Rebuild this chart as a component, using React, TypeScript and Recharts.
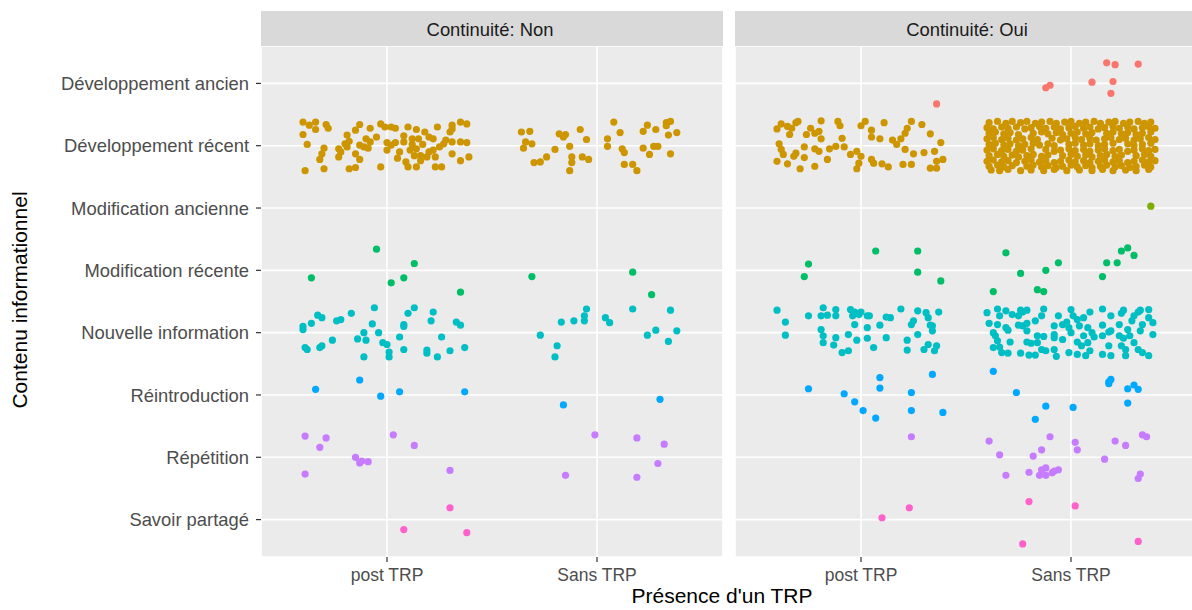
import { ScatterChart, Scatter, XAxis, YAxis, CartesianGrid } from 'recharts';

// y levels, bottom to top (position 1..8)
const CATEGORIES = [
  'Savoir partagé',
  'Répétition',
  'Réintroduction',
  'Nouvelle information',
  'Modification récente',
  'Modification ancienne',
  'Développement récent',
  'Développement ancien',
];
const TRP_LABELS = ['post TRP', 'Sans TRP'];
const FACET_LABELS = ['Continuité: Non', 'Continuité: Oui'];

// ggplot default hue palette, in level order
const COLORS: Record<string, string> = {
  'Développement ancien': '#F8766D',
  'Développement récent': '#CD9600',
  'Modification ancienne': '#7CAE00',
  'Modification récente': '#00BE67',
  'Nouvelle information': '#00BFC4',
  'Réintroduction': '#00A9FF',
  'Répétition': '#C77CFF',
  'Savoir partagé': '#FF61CC',
};

// [TRP position (1 = post TRP, 2 = Sans TRP), jitter x, jitter y], jitter in hundredths of a step
type Pt = [number, number, number];

// ---- Continuité: Non ----
const nonDevRecent: Pt[] = [
  [1,-40,38],[1,-37,33],[1,-34,38],[1,-34,26],[1,-29,34],[1,-28,28],[1,-40,18],[1,-38,2],[1,-39,-40],[1,-30,-4],
  [1,-31,-13],[1,-32,-22],[1,-30,-37],[1,-23,-5],[1,-23,-18],[1,-19,17],[1,-18,7],[1,-19,-2],[1,-15,25],[1,-13,34],
  [1,-15,-13],[1,-13,-22],[1,-18,-37],[1,-15,-35],[1,-8,28],[1,-5,14],[1,-8,6],[1,-9,-4],[1,-13,1],[1,-3,35],
  [1,-1,30],[1,2,30],[1,4,28],[1,0,5],[1,0,-7],[1,-3,-34],[1,4,5],[1,6,-10],[1,5,-20],[1,8,16],
  [1,10,30],[1,14,26],[1,15,11],[1,18,22],[1,20,14],[1,22,11],[1,12,2],[1,11,-7],[1,13,-16],[1,9,-26],
  [1,10,-34],[1,14,-34],[1,16,-24],[1,19,-18],[1,17,2],[1,22,-7],[1,23,-18],[1,23,-34],[1,26,-34],[1,24,30],
  [1,27,3],[1,28,9],[1,31,27],[1,31,33],[1,30,22],[1,31,6],[1,35,6],[1,38,5],[1,35,38],[1,38,35],
  [1,31,-13],[1,35,-24],[1,39,-18],[1,-22,-10],[1,-20,3],[1,-11,-2],[1,-10,11],[1,2,1],[1,8,6],[1,12,11],
  [1,20,-10],[1,25,-2],[1,14,-5],[1,16,-16],
  [2,-36,22],[2,-32,23],[2,-34,6],[2,-31,3],[2,-35,-4],[2,-30,-27],[2,-27,-26],[2,-24,-18],[2,-20,-6],[2,-18,19],
  [2,-15,18],[2,-16,14],[2,-13,-1],[2,-12,-18],[2,-12,-27],[2,-13,-40],[2,-8,26],[2,-5,10],[2,-7,-18],[2,-4,-22],
  [2,5,11],[2,5,-1],[2,8,38],[2,11,21],[2,12,-5],[2,13,-11],[2,13,-30],[2,17,-30],[2,19,-40],[2,22,-4],
  [2,25,-14],[2,22,23],[2,24,33],[2,28,26],[2,27,-1],[2,29,-1],[2,33,37],[2,35,39],[2,33,32],[2,34,17],
  [2,38,21],[2,35,-13],
];
const nonModRecent: Pt[] = [
  [1,-36,-12],[1,-5,34],[1,2,-20],[1,8,-12],[1,13,11],[1,35,-35],
  [2,-31,-10],[2,17,-3],[2,26,-39],
];
const nonNouvelle: Pt[] = [
  [1,-40,10],[1,-40,5],[1,-36,15],[1,-33,28],[1,-31,24],[1,-24,19],[1,-22,21],[1,-17,31],[1,-6,40],[1,-7,14],
  [1,-11,0],[1,-14,-10],[1,-10,-12],[1,-4,0],[1,-2,-16],[1,0,-19],[1,1,-31],[1,1,-39],[1,-11,-39],[1,-39,-24],
  [1,-38,-27],[1,-32,-24],[1,-31,-21],[1,-26,-12],[1,6,-7],[1,8,10],[1,8,13],[1,10,31],[1,13,40],[1,8,-27],
  [1,19,-33],[1,19,-28],[1,24,-39],[1,21,19],[1,22,33],[1,26,-7],[1,30,-29],[1,33,17],[1,35,12],[1,37,-24],
  [2,-27,-4],[2,-17,17],[2,-19,-21],[2,-20,-39],[2,-11,19],[2,-6,27],[2,-6,19],[2,-5,38],[2,4,24],[2,6,16],
  [2,17,38],[2,24,-4],[2,28,4],[2,35,36],[2,38,3],[2,34,-14],
];
const nonReintro: Pt[] = [
  [1,-34,9],[1,-13,24],[1,-3,-2],[1,6,5],[1,37,5],
  [2,-16,-16],[2,30,-7],
];
const nonRepet: Pt[] = [
  [1,-39,34],[1,-29,31],[1,-32,16],[1,-39,-27],[1,-15,0],[1,-13,-9],[1,-12,-6],[1,-9,-7],[1,3,36],[1,13,19],[1,30,-21],
  [2,-1,36],[2,-15,-29],[2,19,31],[2,32,21],[2,29,-10],[2,19,-32],
];
const nonSavoir: Pt[] = [
  [1,30,19],[1,8,-16],[1,38,-21],
];

// ---- Continuité: Oui ----
const ouiDevAncien: Pt[] = [
  [1,36,-33],
  [2,-12,-7],[2,-10,-3],[2,10,2],[2,17,33],[2,21,30],[2,20,3],[2,19,-16],[2,32,31],
];
const ouiDevRecent: Pt[] = [
  [1,-40,27],[1,-38,35],[1,-35,31],[1,-33,28],[1,-31,37],[1,-30,39],[1,-34,18],[1,-39,3],[1,-38,-6],[1,-37,-14],
  [1,-40,-25],[1,-35,-29],[1,-32,-17],[1,-31,-12],[1,-29,-37],[1,-27,-2],[1,-27,-19],[1,-26,18],[1,-24,28],[1,-22,20],
  [1,-19,40],[1,-20,23],[1,-19,11],[1,-22,-5],[1,-22,-33],[1,-20,-9],[1,-15,-5],[1,-16,-22],[1,-12,-1],[1,-11,39],
  [1,-10,32],[1,-9,12],[1,-8,-2],[1,-5,-14],[1,-2,-9],[1,-1,-28],[1,-2,-37],[1,0,32],[1,2,39],[1,0,-17],
  [1,5,25],[1,5,14],[1,9,11],[1,11,37],[1,5,-22],[1,6,-28],[1,10,-29],[1,13,-34],[1,15,9],[1,17,2],
  [1,19,11],[1,21,20],[1,22,28],[1,24,39],[1,21,-6],[1,25,-13],[1,20,-30],[1,24,-30],[1,29,34],[1,33,19],
  [1,30,-11],[1,35,-9],[1,38,5],[1,39,-22],[1,36,-25],[1,33,-36],[1,36,-36],
  [2,-39,37],[2,-35,39],[2,-31,36],[2,-28,39],[2,-24,37],[2,-21,39],[2,-17,36],[2,-14,38],[2,-10,39],[2,-7,36],
  [2,-3,38],[2,0,39],[2,4,36],[2,7,38],[2,11,39],[2,14,36],[2,18,38],[2,21,39],[2,25,36],[2,28,38],
  [2,32,39],[2,35,36],[2,38,38],
  [2,-40,29],[2,-37,27],[2,-33,30],[2,-30,28],[2,-26,30],[2,-22,27],[2,-19,29],[2,-15,31],[2,-12,28],[2,-8,30],
  [2,-5,27],[2,-1,29],[2,2,31],[2,6,28],[2,9,30],[2,13,27],[2,16,29],[2,20,31],[2,23,28],[2,27,30],
  [2,30,27],[2,34,29],[2,37,31],[2,40,28],
  [2,-39,20],[2,-36,22],[2,-32,19],[2,-29,21],[2,-25,18],[2,-18,20],[2,-14,22],[2,-11,19],[2,-7,21],[2,-4,18],
  [2,0,20],[2,3,22],[2,7,19],[2,10,21],[2,17,20],[2,20,22],[2,24,19],[2,27,21],[2,31,18],[2,34,20],[2,38,22],
  [2,-40,11],[2,-37,13],[2,-33,10],[2,-30,12],[2,-26,9],[2,-23,11],[2,-19,13],[2,-16,10],[2,-9,12],[2,-5,9],
  [2,-2,11],[2,2,13],[2,5,10],[2,9,12],[2,12,9],[2,16,11],[2,19,13],[2,23,10],[2,26,12],[2,30,9],
  [2,33,11],[2,37,13],[2,40,10],
  [2,-39,2],[2,-36,4],[2,-32,1],[2,-29,3],[2,-25,0],[2,-22,2],[2,-18,4],[2,-15,1],[2,-11,3],[2,-8,0],
  [2,-1,2],[2,2,4],[2,6,1],[2,9,3],[2,13,0],[2,16,2],[2,20,4],[2,27,3],[2,30,0],[2,34,2],[2,38,4],
  [2,-40,-7],[2,-37,-5],[2,-33,-8],[2,-30,-6],[2,-26,-9],[2,-23,-7],[2,-19,-5],[2,-12,-6],[2,-8,-9],[2,-5,-7],
  [2,-1,-5],[2,2,-8],[2,6,-6],[2,9,-9],[2,13,-7],[2,16,-5],[2,20,-8],[2,23,-6],[2,27,-9],[2,30,-7],
  [2,34,-5],[2,37,-8],[2,40,-6],
  [2,-39,-16],[2,-35,-14],[2,-32,-17],[2,-28,-15],[2,-25,-18],[2,-21,-16],[2,-18,-14],[2,-14,-17],[2,-11,-15],[2,-4,-16],
  [2,0,-14],[2,3,-17],[2,7,-15],[2,10,-18],[2,14,-16],[2,17,-14],[2,21,-17],[2,24,-15],[2,31,-16],[2,35,-14],[2,38,-17],
  [2,-40,-25],[2,-37,-23],[2,-33,-26],[2,-30,-24],[2,-26,-27],[2,-22,-25],[2,-19,-23],[2,-15,-26],[2,-12,-24],[2,-8,-27],
  [2,-5,-25],[2,-1,-23],[2,2,-26],[2,6,-24],[2,9,-27],[2,13,-25],[2,16,-23],[2,20,-26],[2,23,-24],[2,27,-27],
  [2,30,-25],[2,34,-23],[2,37,-26],[2,40,-24],
  [2,-39,-33],[2,-35,-31],[2,-32,-34],[2,-28,-32],[2,-21,-33],[2,-18,-31],[2,-14,-34],[2,-11,-32],[2,-7,-35],[2,-4,-33],
  [2,0,-31],[2,3,-34],[2,7,-32],[2,10,-35],[2,14,-33],[2,17,-31],[2,21,-34],[2,24,-32],[2,28,-35],[2,31,-33],
  [2,35,-31],[2,38,-34],
  [2,-38,-39],[2,-34,-40],[2,-30,-38],[2,-24,-40],[2,-19,-39],[2,-13,-40],[2,-8,-38],[2,-2,-40],[2,4,-39],[2,10,-40],
  [2,15,-38],[2,20,-40],[2,26,-39],[2,31,-40],[2,37,-38],
];
const ouiModAncien: Pt[] = [
  [2,38,3],
];
const ouiModRecent: Pt[] = [
  [1,-25,10],[1,-27,-10],[1,7,31],[1,27,31],[1,27,-3],[1,38,-17],
  [2,-37,-34],[2,-31,28],[2,-24,-5],[2,-16,-31],[2,-13,-34],[2,-12,0],[2,-6,12],[2,15,-10],[2,17,12],[2,22,12],
  [2,24,31],[2,27,36],[2,30,24],
];
const ouiNouvelle: Pt[] = [
  [1,-40,36],[1,-36,17],[1,-36,-4],[1,-25,27],[1,-19,27],[1,-18,40],[1,-16,28],[1,-12,37],[1,-12,27],[1,-19,5],
  [1,-18,-5],[1,-18,-16],[1,-12,-8],[1,-13,-20],[1,-9,-32],[1,-6,-29],[1,-6,-3],[1,-5,37],[1,-4,27],[1,-3,33],
  [1,-1,29],[1,0,33],[1,-3,13],[1,-2,-12],[1,3,27],[1,4,27],[1,3,8],[1,3,-9],[1,6,-24],[1,9,12],
  [1,12,25],[1,14,24],[1,12,-8],[1,19,38],[1,22,-12],[1,22,-28],[1,24,13],[1,25,19],[1,27,35],[1,27,-3],
  [1,30,-27],[1,31,32],[1,32,24],[1,33,12],[1,34,11],[1,34,3],[1,37,33],[1,36,-21],[1,35,-29],[1,32,-19],
  [2,-40,32],[2,-39,15],[2,-35,38],[2,-34,27],[2,-35,13],[2,-31,35],[2,-28,29],[2,-24,36],[2,-23,33],[2,-21,36],
  [2,-25,27],[2,-25,12],[2,-23,11],[2,-21,15],[2,-17,19],[2,-13,38],[2,-14,27],[2,-37,0],[2,-36,-5],[2,-35,-13],
  [2,-31,8],[2,-30,4],[2,-29,-15],[2,-34,-23],[2,-37,-24],[2,-33,-32],[2,-30,-33],[2,-24,-33],[2,-20,-36],[2,-17,-36],
  [2,-21,-15],[2,-19,-17],[2,-16,-16],[2,-21,3],[2,-16,-5],[2,-13,-6],[2,-14,-27],[2,-12,-29],[2,-7,-38],[2,-6,27],
  [2,-8,11],[2,-8,-3],[2,-8,-8],[2,-4,13],[2,-2,17],[2,0,37],[2,-1,8],[2,0,0],[2,1,27],[2,3,21],
  [2,4,11],[2,6,24],[2,8,8],[2,9,33],[2,6,-5],[2,3,-15],[2,-1,-32],[2,3,-35],[2,5,-21],[2,8,-16],
  [2,10,0],[2,9,-29],[2,11,-7],[2,15,38],[2,19,27],[2,15,12],[2,15,-5],[2,18,1],[2,19,3],[2,15,-35],
  [2,19,-37],[2,18,-21],[2,23,13],[2,24,31],[2,25,36],[2,23,-5],[2,25,-9],[2,24,-21],[2,26,-37],[2,27,5],
  [2,28,-5],[2,29,19],[2,30,27],[2,32,33],[2,33,36],[2,37,37],[2,37,24],[2,39,16],[2,34,13],[2,33,3],
  [2,30,-16],[2,32,-27],[2,34,-32],[2,37,-37],[2,39,-3],[2,26,-27],[2,7,-37],[2,-4,-11],[2,-8,-27],
];
const ouiReintro: Pt[] = [
  [1,-25,10],[1,-8,2],[1,9,28],[1,9,11],[1,-3,-11],[1,1,-25],[1,7,-37],[1,24,4],[1,24,-25],[1,34,33],[1,39,-28],
  [2,-37,38],[2,-26,4],[2,-12,-18],[2,-17,-39],[2,1,-20],[2,18,21],[2,19,25],[2,18,18],[2,27,10],[2,30,16],
  [2,32,9],[2,27,-13],
];
const ouiRepet: Pt[] = [
  [1,24,33],
  [2,-39,26],[2,-34,4],[2,-31,-29],[2,-20,-24],[2,-18,2],[2,-14,12],[2,-10,33],[2,-14,-20],[2,-12,-17],[2,-15,-29],
  [2,-12,-29],[2,-9,-25],[2,-8,-22],[2,-6,-20],[2,2,24],[2,3,12],[2,16,-3],[2,21,26],[2,26,19],[2,34,36],
  [2,36,33],[2,33,-27],[2,32,-34],
];
const ouiSavoir: Pt[] = [
  [1,10,3],[1,23,19],
  [2,-20,29],[2,-23,-39],[2,2,22],[2,32,-35],
];

const FACETS = [
  [
    { cat: 'Développement récent', pts: nonDevRecent },
    { cat: 'Modification récente', pts: nonModRecent },
    { cat: 'Nouvelle information', pts: nonNouvelle },
    { cat: 'Réintroduction', pts: nonReintro },
    { cat: 'Répétition', pts: nonRepet },
    { cat: 'Savoir partagé', pts: nonSavoir },
  ],
  [
    { cat: 'Développement ancien', pts: ouiDevAncien },
    { cat: 'Développement récent', pts: ouiDevRecent },
    { cat: 'Modification ancienne', pts: ouiModAncien },
    { cat: 'Modification récente', pts: ouiModRecent },
    { cat: 'Nouvelle information', pts: ouiNouvelle },
    { cat: 'Réintroduction', pts: ouiReintro },
    { cat: 'Répétition', pts: ouiRepet },
    { cat: 'Savoir partagé', pts: ouiSavoir },
  ],
];

const FONT = '"Liberation Sans", Arial, sans-serif';
const PANEL_TOP = 46;
const PANEL_H = 511;
const PANEL_W = 462;
const Y_AXIS_W = 261;
const X_AXIS_H = 44;

function toPoints(cat: string, pts: Pt[]) {
  const y0 = CATEGORIES.indexOf(cat) + 1;
  return pts.map(([t, dx, dy]) => ({ x: t + dx / 100, y: y0 + dy / 100 }));
}

function Panel({ facet, left, showY }: { facet: number; left: number; showY: boolean }) {
  const series = FACETS[facet];
  return (
    <div style={{ position: 'absolute', left, top: PANEL_TOP }}>
      <ScatterChart
        width={(showY ? Y_AXIS_W : 0) + PANEL_W}
        height={PANEL_H + X_AXIS_H}
        margin={{ top: 0, right: 0, bottom: 0, left: 0 }}
      >
        <CartesianGrid fill="#EBEBEB" fillOpacity={1} stroke="#FFFFFF" strokeWidth={1.6} />
        <XAxis
          type="number"
          dataKey="x"
          domain={[0.4, 2.6]}
          ticks={[1, 2]}
          interval={0}
          tickFormatter={(v: number) => TRP_LABELS[v - 1]}
          height={X_AXIS_H}
          axisLine={false}
          tickLine={{ stroke: '#333333', strokeWidth: 1.2 }}
          tickSize={5}
          tickMargin={7}
          tick={{ fill: '#4D4D4D', fontSize: 17.5 }}
        />
        <YAxis
          type="number"
          dataKey="y"
          domain={[0.4, 8.6]}
          ticks={[1, 2, 3, 4, 5, 6, 7, 8]}
          interval={0}
          tickFormatter={(v: number) => CATEGORIES[v - 1]}
          width={Y_AXIS_W}
          hide={!showY}
          axisLine={false}
          tickLine={{ stroke: '#333333', strokeWidth: 1.2 }}
          tickSize={5}
          tickMargin={7}
          tick={{ fill: '#4D4D4D', fontSize: 18.4 }}
        />
        {series.map((s) => (
          <Scatter
            key={s.cat}
            name={s.cat}
            data={toPoints(s.cat, s.pts)}
            fill={COLORS[s.cat]}
            isAnimationActive={false}
            shape={(p: any) => <circle cx={p.cx} cy={p.cy} r={3.6} fill={COLORS[s.cat]} />}
          />
        ))}
      </ScatterChart>
    </div>
  );
}

export default function App() {
  return (
    <div
      style={{
        position: 'absolute',
        left: 0,
        top: 0,
        width: 1192,
        height: 610,
        overflow: 'hidden',
        background: '#FFFFFF',
        fontFamily: FONT,
      }}
    >
      <svg width={1192} height={610} style={{ position: 'absolute', left: 0, top: 0 }}>
        <rect x={261} y={11} width={PANEL_W} height={35} fill="#D9D9D9" />
        <rect x={735} y={11} width={PANEL_W} height={35} fill="#D9D9D9" />
        <text x={490} y={29} textAnchor="middle" dominantBaseline="central" fontSize={18.4} fill="#1A1A1A">
          {FACET_LABELS[0]}
        </text>
        <text x={967} y={29} textAnchor="middle" dominantBaseline="central" fontSize={18.4} fill="#1A1A1A">
          {FACET_LABELS[1]}
        </text>
        <text x={722} y={603} textAnchor="middle" fontSize={21} fill="#000000">
          Présence d'un TRP
        </text>
        <text transform="translate(27,300) rotate(-90)" textAnchor="middle" fontSize={21} fill="#000000">
          Contenu informationnel
        </text>
      </svg>
      <Panel facet={0} left={0} showY={true} />
      <Panel facet={1} left={735} showY={false} />
    </div>
  );
}
